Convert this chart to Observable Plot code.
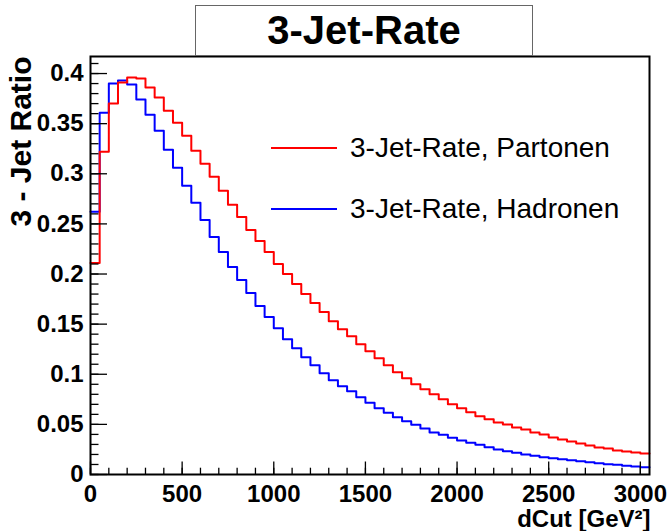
<!DOCTYPE html>
<html><head><meta charset="utf-8">
<script src="https://cdn.jsdelivr.net/npm/d3@7"></script>
<script src="https://cdn.jsdelivr.net/npm/@observablehq/plot@0.6"></script>
<style>
body{margin:0;background:#fff;font-family:"Liberation Sans",Arial,Helvetica,sans-serif;}
#wrap{position:relative;width:667px;height:531px;overflow:hidden;}
#title{position:absolute;left:195px;top:5px;width:338px;height:51px;box-sizing:border-box;border:1px solid #666;background:#fff;
  font-weight:bold;font-size:40px;line-height:49px;text-align:center;color:#000;}
.lg{position:absolute;left:271px;width:66px;height:2px;}
.lt{position:absolute;left:350px;font-size:28px;line-height:30px;color:#000;white-space:nowrap;}
</style></head>
<body><div id="wrap"></div>
<script>
const binWidth = 50;
const partonen = [0.211,0.322,0.370,0.391,0.396,0.395,0.386,0.376,0.363,0.351,
  0.338,0.323,0.310,0.297,0.283,0.269,0.257,0.244,0.233,0.222,
  0.210,0.200,0.190,0.180,0.171,0.162,0.153,0.145,0.138,0.130,
  0.123,0.116,0.109,0.102,0.096,0.090,0.085,0.080,0.075,0.070,
  0.066,0.062,0.058,0.055,0.052,0.050,0.047,0.045,0.042,0.040,
  0.037,0.035,0.033,0.031,0.029,0.027,0.026,0.024,0.023,0.022,0.021];
const hadronen = [0.262,0.361,0.390,0.393,0.389,0.374,0.359,0.343,0.324,0.306,
  0.288,0.271,0.254,0.237,0.222,0.207,0.194,0.181,0.168,0.157,
  0.146,0.135,0.126,0.117,0.109,0.101,0.094,0.088,0.083,0.077,
  0.0715,0.066,0.0615,0.057,0.053,0.0496,0.046,0.042,0.0396,0.0366,
  0.034,0.0316,0.0296,0.0272,0.025,0.0233,0.0216,0.020,0.0186,0.0173,
  0.0163,0.0153,0.0143,0.0133,0.0123,0.0113,0.0103,0.0097,0.0087,0.008,0.0073];
const xTicks = [0,500,1000,1500,2000,2500,3000];
const yTicks = [0,0.05,0.1,0.15,0.2,0.25,0.3,0.35,0.4];
const seriesNames = ["3-Jet-Rate, Partonen","3-Jet-Rate, Hadronen"];
const seriesColors = ["#ff0000","#0000ff"];
const xMinor = d3.range(0, 3001, 100);
const yMinor = d3.range(0, 0.4101, 0.01);

function steps(vals){
  const pts = vals.map((v,i)=>({x:i*binWidth,y:v}));
  pts.push({x:vals.length*binWidth,y:vals[vals.length-1]});
  return pts;
}
const W=667,H=531,mL=90,mR=18,mT=56,mB=57;
const pw=W-mL-mR, ph=H-mT-mB;
const font='"Liberation Sans",Arial,Helvetica,sans-serif';

const chart = Plot.plot({
  width:W,height:H,marginLeft:mL,marginRight:mR,marginTop:mT,marginBottom:mB,
  style:{fontFamily:font,background:"#fff",color:"#000"},
  x:{domain:[0,3050]},
  y:{domain:[0,0.417]},
  marks:[
    Plot.line(steps(hadronen),{x:"x",y:"y",curve:"step-after",stroke:seriesColors[1],strokeWidth:2}),
    Plot.line(steps(partonen),{x:"x",y:"y",curve:"step-after",stroke:seriesColors[0],strokeWidth:2}),
    Plot.tickY(yTicks,{y:d=>d,insetRight:pw-17,stroke:"#000",strokeWidth:1.3}),
    Plot.tickY(yMinor,{y:d=>d,insetRight:pw-8.5,stroke:"#000",strokeWidth:1.3}),
    Plot.tickX(xTicks,{x:d=>d,insetTop:ph-12.5,stroke:"#000",strokeWidth:1.3}),
    Plot.tickX(xMinor,{x:d=>d,insetTop:ph-6.3,stroke:"#000",strokeWidth:1.3}),
    Plot.axisX(xTicks,{tickSize:0,tickPadding:10,tickFormat:d=>String(d),fontSize:24,fontWeight:"bold",label:null}),
    Plot.axisY(yTicks,{tickSize:0,tickPadding:7,tickFormat:d=>String(d),fontSize:24,fontWeight:"bold",label:null}),
    Plot.frame({stroke:"#000",strokeWidth:2}),
    Plot.text(["3 - Jet Ratio"],{frameAnchor:"top-left",rotate:-90,textAnchor:"end",lineAnchor:"middle",dx:-69,dy:0,fontSize:30,fontWeight:"bold",fill:"#000"}),
    Plot.text(["dCut [GeV²]"],{frameAnchor:"bottom-right",textAnchor:"end",lineAnchor:"bottom",dx:1,dy:52,fontSize:24,fontWeight:"bold",fill:"#000"})
  ]
});
const wrap=document.getElementById("wrap");
wrap.appendChild(chart);
const t=document.createElement("div");t.id="title";t.textContent="3-Jet-Rate";wrap.appendChild(t);
const lineYs=[148,209];
seriesNames.forEach((n,i)=>{
  const l=document.createElement("div");l.className="lg";l.style.top=(lineYs[i]-1)+"px";l.style.background=seriesColors[i];wrap.appendChild(l);
  const s=document.createElement("div");s.className="lt";s.style.top=(lineYs[i]-15)+"px";s.textContent=n;wrap.appendChild(s);
});
</script></body></html>
